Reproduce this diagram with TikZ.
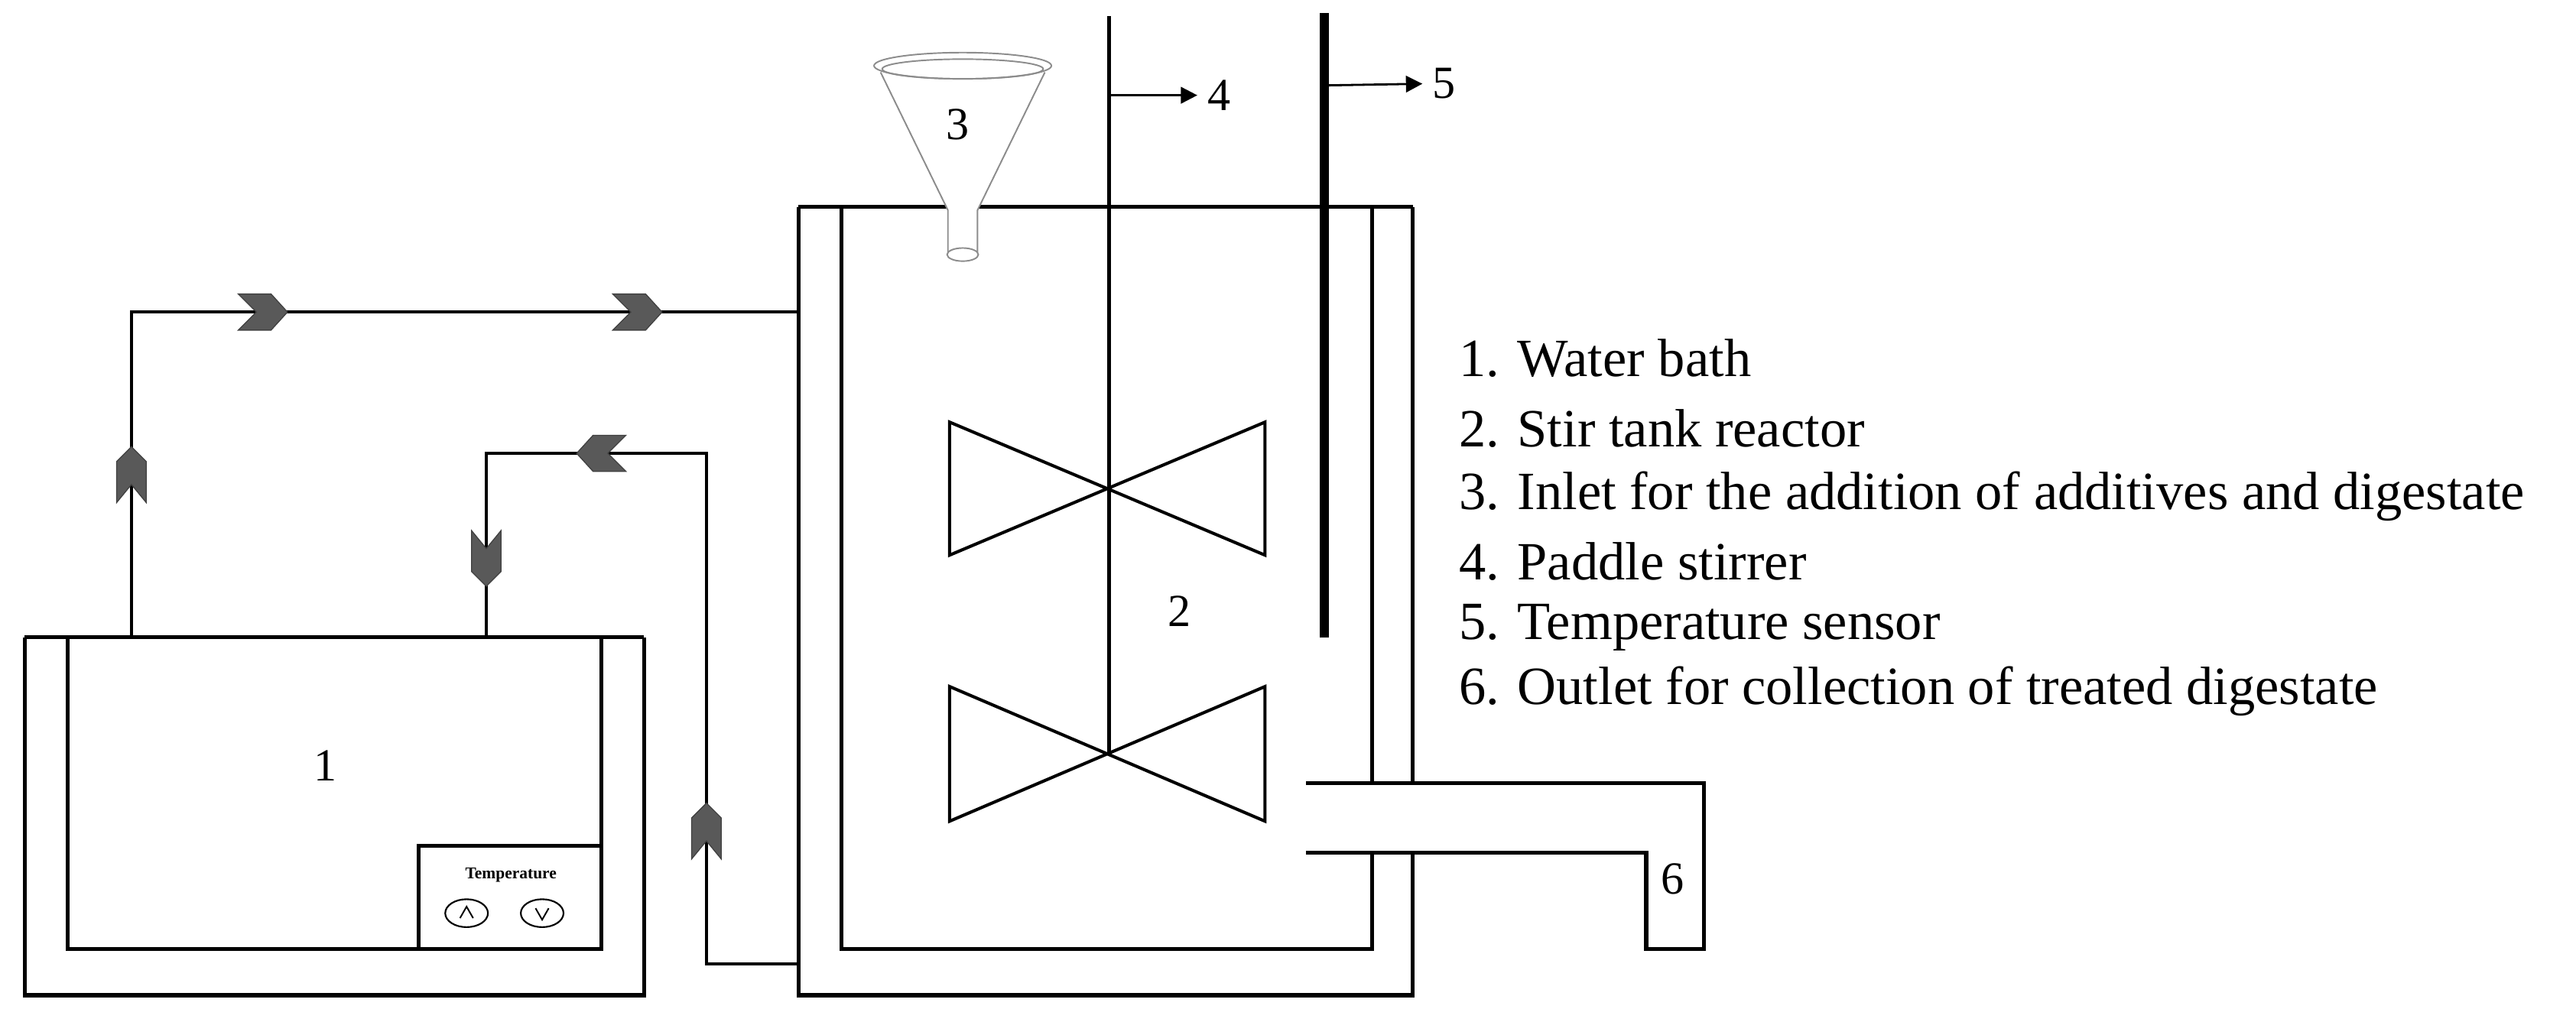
\documentclass[tikz,border=0pt]{standalone}
\usepackage{fontspec}
\setmainfont{Liberation Serif}
\usetikzlibrary{arrows.meta}
\begin{document}
\begin{tikzpicture}[x=1pt,y=-1pt,
  wall/.style={line width=2.4pt,line join=miter},
  lbl/.style={font=\fontsize{28}{30}\selectfont,inner sep=0pt},
  item/.style={font=\fontsize{32.8}{34}\selectfont,inner sep=0pt,anchor=west},
  chev/.pic={\fill[black!65,draw=black!75,line width=0.6pt] (-15,-11)--(5,-11)--(15,0)--(5,11)--(-15,11)--(-4,0)--cycle;},
  vchev/.pic={\fill[black!65,draw=black!75,line width=0.6pt] (-17,-9)--(8,-9)--(17,0)--(8,9)--(-17,9)--(-6,0)--cycle;},
  arr/.style={line width=1.3pt,-{Triangle[length=10pt,width=10pt]}},
  funnel/.style={draw=black!45,line width=0.9pt}]
\useasboundingbox (0,0) rectangle (1568,622);
% water bath
\draw[wall] (15,388)--(392,388);
\draw[wall] (15,388)--(15,606)--(392,606)--(392,388);
\draw[wall] (41,388)--(41,578)--(366,578)--(366,388);
\draw[wall] (255,578)--(255,515)--(366,515);
\node[lbl] (n1) at (198,466) {1};
\node[inner sep=0pt,font=\fontsize{10}{12}\selectfont\bfseries] (temp) at (311,533) {Temperature};
\draw[line width=1pt] (284,556) ellipse (13 and 8.5);
\draw[line width=1pt] (330,556) ellipse (13 and 8.5);
\draw[line width=0.9pt] (280,559)--(284,552)--(288,559);
\draw[line width=0.9pt] (326,553)--(330,560)--(334,553);
% reactor
\draw[wall] (486,126)--(860,126);
\draw[wall] (486,126)--(486,606)--(860,606)--(860,519);
\draw[wall] (860,477)--(860,126);
\draw[wall] (512,126)--(512,578)--(835,578)--(835,519);
\draw[wall] (835,477)--(835,126);
% outlet
\draw[wall] (795,477)--(1037,477)--(1037,578)--(1002,578)--(1002,519)--(795,519);
\node[lbl] (n6) at (1018,535) {6};
% circulation pipes
\coordinate (b1) at (80,388);
\coordinate (b2) at (296,388);
\coordinate (r1) at (486,190);
\coordinate (r2) at (486,587);
\draw[line width=1.7pt] (b1)--(80,190)--(r1);
\draw[line width=1.7pt] (r2)--(430,587)--(430,276)--(296,276)--(b2);
\pic at (160,190) {chev};
\pic at (388,190) {chev};
\pic[rotate=90] at (80,289) {vchev};
\pic[rotate=180] at (366,276) {chev};
\pic[rotate=-90] at (296,340) {vchev};
\pic[rotate=90] at (430,506) {vchev};
% stirrer
\draw[line width=2.6pt] (675,10)--(675,460);
\draw[line width=1.9pt] (578,257)--(578,338)--(770,257)--(770,338)--cycle;
\draw[line width=1.9pt] (578,418)--(578,500)--(770,418)--(770,500)--cycle;
\node[lbl] (n2) at (718,372) {2};
\node[lbl] (n4) at (742,58) {4};
\draw[arr] (675,58)--([xshift=-6pt]n4.west);
% sensor
\draw[line width=5.5pt] (806,8)--(806,388);
\node[lbl] (n5) at (879,51) {5};
\draw[arr] (806,52)--([xshift=-6pt]n5.west);
% funnel
\draw[funnel,fill=white] (536,44)--(577,128)--(577,155)--(595,155)--(595,128)--(636,44);
\draw[funnel] (586,40) ellipse (54 and 8);
\draw[funnel] (586,42) ellipse (49 and 6);
\draw[funnel,fill=white] (586,155) ellipse (9.5 and 4);
\node[lbl] (n3) at (583,76) {3};
% legend
\node[item] (l1) at (888,218) {1. Water bath};
\node[item] (l2) at (888,261) {2. Stir tank reactor};
\node[item] (l3) at (888,302) {3. Inlet for the addition of additives and digestate};
\node[item] (l4) at (888,342) {4. Paddle stirrer};
\node[item] (l5) at (888,382) {5. Temperature sensor};
\node[item] (l6) at (888,421) {6. Outlet for collection of treated digestate};
\end{tikzpicture}
\end{document}
